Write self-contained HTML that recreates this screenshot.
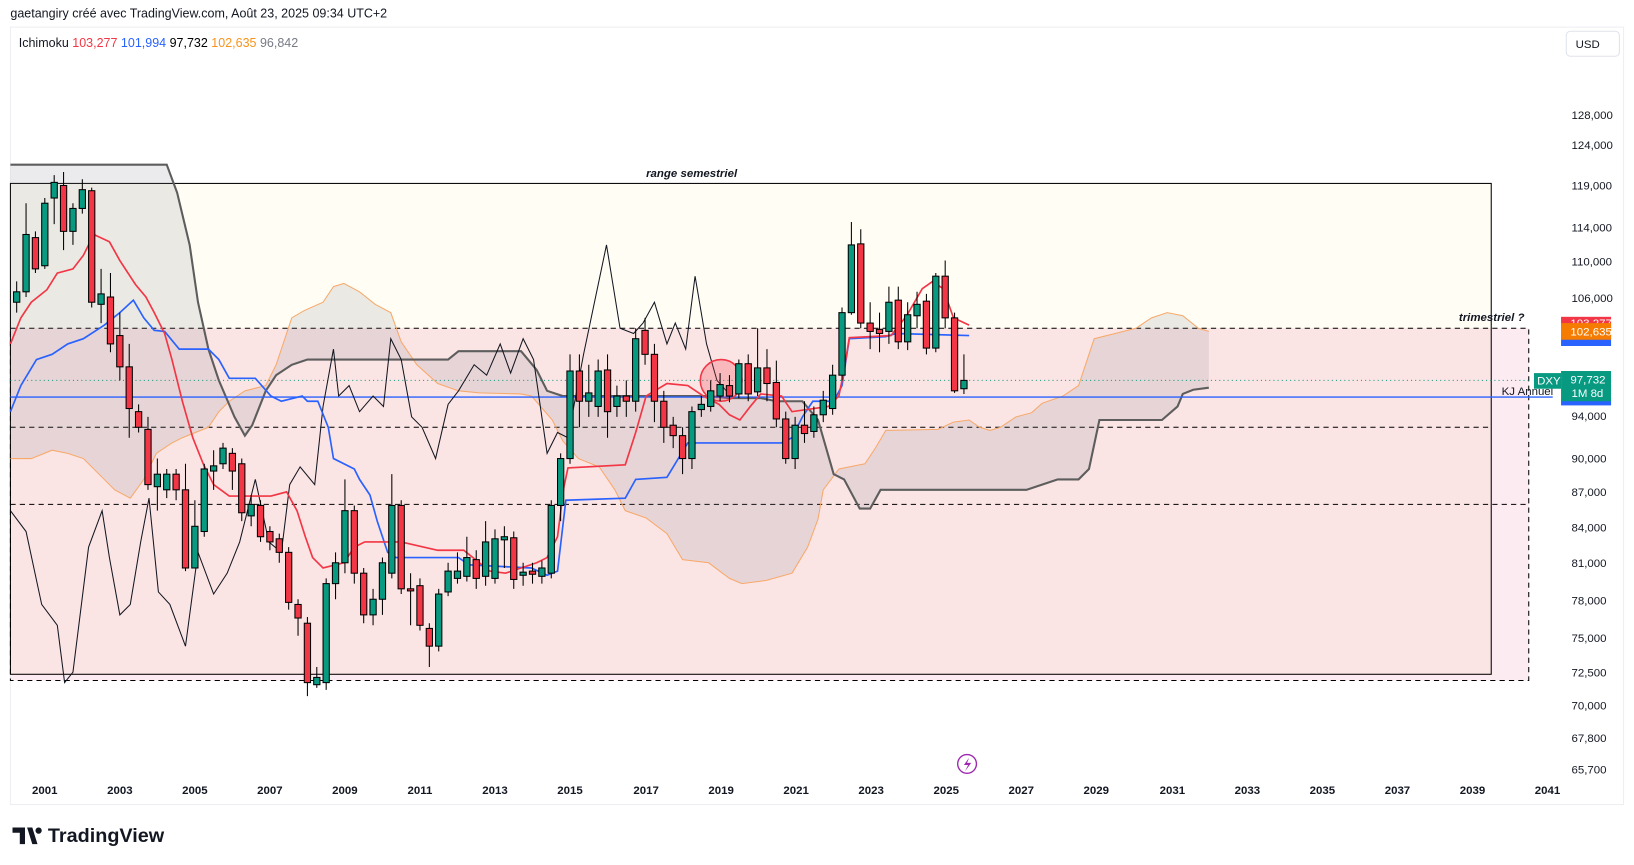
<!DOCTYPE html>
<html><head><meta charset="utf-8"><style>
html,body{margin:0;padding:0;background:#fff;}
svg{display:block;}
text{font-family:"Liberation Sans","DejaVu Sans",sans-serif;}
</style></head><body>
<svg width="1634" height="865" viewBox="0 0 1568 830" preserveAspectRatio="none" xmlns="http://www.w3.org/2000/svg">
<rect width="1568" height="830" fill="#fff"/>
<text x="10" y="17" font-size="12" fill="#131722">gaetangiry créé avec TradingView.com, Août 23, 2025 09:34 UTC+2</text>
<rect x="10" y="26" width="1548" height="746" fill="#fff" stroke="#eceef2"/>
<text x="18" y="45" font-size="12" fill="#131722">Ichimoku <tspan fill="#f23645">103,277</tspan> <tspan fill="#2962ff">101,994</tspan> <tspan fill="#000">97,732</tspan> <tspan fill="#f7931a">102,635</tspan> <tspan fill="#787b86">96,842</tspan></text>
<rect x="1503" y="30" width="51" height="24" rx="4" fill="#fff" stroke="#e0e3eb"/>
<text x="1512" y="46" font-size="11" fill="#131722">USD</text>

<rect x="10" y="176" width="1421" height="471" fill="#fffdf4"/>
<rect x="10" y="315" width="1457" height="338" fill="#f7c6d6" fill-opacity="0.35"/>
<rect x="10" y="315" width="1421" height="332" fill="#fbe4e4"/>
<rect x="10" y="176" width="1421" height="471" fill="none" stroke="#000" stroke-width="1"/>
<rect x="10" y="315" width="1457" height="338" fill="none" stroke="#000" stroke-dasharray="5,4"/>
<line x1="10" y1="410" x2="1431" y2="410" stroke="#000" stroke-dasharray="5,4"/>
<line x1="10" y1="484" x2="1467" y2="484" stroke="#000" stroke-dasharray="5,4"/>
<text x="620" y="170" font-size="11" font-weight="bold" font-style="italic" fill="#131722">range semestriel</text>
<text x="1400" y="308" font-size="11" font-weight="bold" font-style="italic" fill="#131722">trimestriel ?</text>

<polygon fill="#787b86" fill-opacity="0.15" points="10,440 30,440 50,432 65,435 80,440 95,455 110,470 125,478 138,460 150,435 165,425 175,420 200,410 210,395 220,385 235,375 255,370 265,350 280,305 292,298 310,290 320,275 330,272 345,280 360,292 375,300 385,328 400,350 420,368 440,375 460,377 500,378 510,380 530,403 540,423 555,440 575,448 590,470 600,490 620,497 640,512 655,537 680,540 700,555 712,560 735,557 760,550 775,525 785,498 790,470 805,450 830,445 840,430 850,413 900,412 915,405 930,403 940,410 950,413 960,410 975,400 990,396 1000,387 1020,380 1035,370 1050,325 1070,320 1090,315 1105,305 1120,300 1135,303 1150,315 1160,318 1160,372 1145,374 1135,378 1130,390 1115,403 1055,403 1045,450 1035,460 1015,460 1000,465 985,470 845,470 835,488 825,488 810,460 800,455 785,403 770,385 745,385 730,382 700,382 680,380 540,380 525,375 515,355 500,337 440,337 430,345 295,345 280,350 265,360 255,375 242,408 235,418 225,400 210,365 200,335 190,290 182,235 170,185 160,158 10,158"/>
<polyline fill="none" stroke="#f7a96a" stroke-width="1" points="10,440 30,440 50,432 65,435 80,440 95,455 110,470 125,478 138,460 150,435 165,425 175,420 200,410 210,395 220,385 235,375 255,370 265,350 280,305 292,298 310,290 320,275 330,272 345,280 360,292 375,300 385,328 400,350 420,368 440,375 460,377 500,378 510,380 530,403 540,423 555,440 575,448 590,470 600,490 620,497 640,512 655,537 680,540 700,555 712,560 735,557 760,550 775,525 785,498 790,470 805,450 830,445 840,430 850,413 900,412 915,405 930,403 940,410 950,413 960,410 975,400 990,396 1000,387 1020,380 1035,370 1050,325 1070,320 1090,315 1105,305 1120,300 1135,303 1150,315 1160,318"/>
<polyline fill="none" stroke="#5d5d5d" stroke-width="2" points="10,158 160,158 170,185 182,235 190,290 200,335 210,365 225,400 235,418 242,408 255,375 265,360 280,350 295,345 430,345 440,337 500,337 515,355 525,375 540,380 680,380 700,382 730,382 745,385 770,385 785,403 800,455 810,460 825,488 835,488 845,470 985,470 1000,465 1015,460 1035,460 1045,450 1055,403 1115,403 1130,390 1135,378 1145,374 1160,372"/>

<line x1="10" y1="365" x2="1467" y2="365" stroke="#089981" stroke-dasharray="1,3"/>
<line x1="10" y1="381" x2="1490" y2="381" stroke="#2962ff" stroke-width="1.3"/>
<text x="1441" y="379" font-size="11" fill="#131722">KJ Annuel</text>

<polyline fill="none" stroke="#131722" stroke-width="1" points="10,490 25,510 40,580 55,600 62,655 70,645 85,525 98,490 105,535 115,590 125,580 135,520 143,478 152,568 163,580 178,620 190,530 205,570 218,550 230,520 245,460 258,520 270,530 278,465 288,448 302,465 310,390 320,335 325,380 335,370 345,395 358,380 368,390 375,325 385,345 395,400 405,410 418,440 430,388 440,375 455,350 467,360 480,330 490,358 502,325 512,345 525,435 535,415 545,420 560,340 582,235 595,315 608,320 617,310 628,290 640,330 648,310 658,335 667,265 678,330 688,365 697,375"/>
<polyline fill="none" stroke="#2962ff" stroke-width="1.6" points="10,395 20,370 35,345 50,340 65,330 80,325 100,312 115,300 128,288 138,305 148,317 158,318 172,335 200,335 210,345 220,363 245,363 260,380 270,385 290,380 295,385 305,385 315,410 320,440 340,450 345,460 355,475 362,500 372,530 380,535 440,535 450,542 510,545 525,552 535,548 543,480 600,478 610,460 640,458 660,425 750,425 760,420 770,400 780,385 800,385 808,370 815,325 850,323 860,320 930,322"/>
<polyline fill="none" stroke="#f23645" stroke-width="1.6" points="10,330 20,305 30,290 45,278 55,262 70,258 80,245 90,225 105,232 115,250 130,273 140,285 148,300 158,320 165,345 175,385 185,420 195,445 205,465 220,476 260,476 275,472 285,490 293,515 300,535 310,545 330,540 340,525 350,520 385,520 420,528 445,528 460,540 470,548 485,550 500,545 515,540 525,535 535,515 541,468 545,449 600,446 610,415 620,380 640,368 660,370 675,380 690,388 700,398 710,403 720,390 730,378 750,380 760,395 795,390 805,380 810,355 815,324 855,322 870,303 885,277 895,270 905,277 915,305 930,312"/>

<circle cx="692" cy="365" r="20" fill="#f23645" fill-opacity="0.25" stroke="#f23645" stroke-width="1.5"/>

<path fill="none" stroke="#000" stroke-width="1" d="M16 270V300M25 195V285M34 222V262M43 190V258M52 168V215M61 165V240M70 195V235M79 172V205M88 180V295M97 258V310M106 262V338M115 300V365M124 330V420M133 388V415M142 400V470M151 440V490M160 450V478M169 450V480M178 445V548M187 480V545M196 445V515M205 432V470M214 425V450M223 430V470M232 440V500M241 475V505M250 480V520M259 505V528M268 512V540M277 525V585M286 575V610M295 592V668M304 640V660M313 555V662M322 530V575M331 460V550M340 485V560M349 545V598M358 565V600M367 535V590M376 455V555M385 480V570M394 550V600M403 555V605M412 598V640M421 565V625M430 540V572M439 530V560M448 515V558M457 528V565M466 500V562M475 508V560M484 505V545M493 510V565M502 540V562M511 540V560M520 538V560M529 480V555M538 435V500M547 340V445M556 340V410M565 350V400M574 345V400M583 340V420M592 370V400M601 365V400M610 315V395M619 305V350M628 330V405M637 375V425M646 400V430M655 410V455M664 390V450M673 380V400M682 365V395M691 358V385M700 360V386M709 345V382M718 340V385M727 315V380M736 335V385M745 346V410M754 395V445M763 400V450M772 385V425M781 390V420M790 375V405M799 350V398M808 295V365M817 213V302M826 220V315M835 290V335M844 300V338M853 275V330M862 275V335M871 290V336M880 280V315M889 282V340M898 262V338M907 250V315M916 300V377M925 340V378"/>
<g fill="#089981" stroke="#000" stroke-width="1">
<rect x="13" y="280" width="6" height="10"/><rect x="22" y="225" width="6" height="55"/><rect x="40" y="195" width="6" height="60"/><rect x="49" y="175" width="6" height="15"/><rect x="67" y="200" width="6" height="22"/><rect x="76" y="182" width="6" height="18"/><rect x="94" y="282" width="6" height="10"/><rect x="148" y="455" width="6" height="12"/><rect x="157" y="455" width="6" height="15"/><rect x="184" y="505" width="6" height="40"/><rect x="193" y="450" width="6" height="60"/><rect x="202" y="447" width="6" height="5"/><rect x="211" y="430" width="6" height="15"/><rect x="238" y="484" width="6" height="11"/><rect x="301" y="650" width="6" height="7"/><rect x="310" y="560" width="6" height="95"/><rect x="319" y="540" width="6" height="20"/><rect x="328" y="490" width="6" height="50"/><rect x="355" y="575" width="6" height="15"/><rect x="364" y="540" width="6" height="35"/><rect x="373" y="485" width="6" height="65"/><rect x="418" y="570" width="6" height="50"/><rect x="427" y="548" width="6" height="20"/><rect x="436" y="548" width="6" height="7"/><rect x="445" y="535" width="6" height="18"/><rect x="463" y="520" width="6" height="33"/><rect x="472" y="517" width="6" height="38"/><rect x="481" y="515" width="6" height="3"/><rect x="499" y="549" width="6" height="3"/><rect x="517" y="545" width="6" height="8"/><rect x="526" y="485" width="6" height="65"/><rect x="535" y="440" width="6" height="45"/><rect x="544" y="356" width="6" height="84"/><rect x="562" y="377" width="6" height="8"/><rect x="571" y="356" width="6" height="34"/><rect x="589" y="380" width="6" height="10"/><rect x="607" y="325" width="6" height="60"/><rect x="661" y="395" width="6" height="45"/><rect x="670" y="388" width="6" height="5"/><rect x="679" y="375" width="6" height="15"/><rect x="688" y="369" width="6" height="11"/><rect x="706" y="349" width="6" height="29"/><rect x="724" y="353" width="6" height="23"/><rect x="760" y="408" width="6" height="32"/><rect x="778" y="398" width="6" height="16"/><rect x="787" y="384" width="6" height="14"/><rect x="796" y="360" width="6" height="32"/><rect x="805" y="300" width="6" height="60"/><rect x="814" y="235" width="6" height="65"/><rect x="850" y="290" width="6" height="28"/><rect x="868" y="302" width="6" height="26"/><rect x="877" y="292" width="6" height="11"/><rect x="895" y="265" width="6" height="69"/><rect x="922" y="365" width="6" height="8"/>
</g>
<g fill="#f23645" stroke="#000" stroke-width="1">
<rect x="31" y="228" width="6" height="30"/><rect x="58" y="178" width="6" height="44"/><rect x="85" y="183" width="6" height="107"/><rect x="103" y="285" width="6" height="45"/><rect x="112" y="322" width="6" height="30"/><rect x="121" y="352" width="6" height="40"/><rect x="130" y="395" width="6" height="15"/><rect x="139" y="412" width="6" height="53"/><rect x="166" y="455" width="6" height="15"/><rect x="175" y="470" width="6" height="75"/><rect x="220" y="435" width="6" height="17"/><rect x="229" y="445" width="6" height="47"/><rect x="247" y="485" width="6" height="30"/><rect x="256" y="510" width="6" height="10"/><rect x="265" y="517" width="6" height="13"/><rect x="274" y="530" width="6" height="48"/><rect x="283" y="580" width="6" height="13"/><rect x="292" y="598" width="6" height="57"/><rect x="337" y="490" width="6" height="60"/><rect x="346" y="550" width="6" height="40"/><rect x="382" y="485" width="6" height="80"/><rect x="391" y="565" width="6" height="2"/><rect x="400" y="562" width="6" height="38"/><rect x="409" y="603" width="6" height="17"/><rect x="454" y="537" width="6" height="18"/><rect x="490" y="516" width="6" height="40"/><rect x="508" y="548" width="6" height="3"/><rect x="553" y="356" width="6" height="29"/><rect x="580" y="355" width="6" height="40"/><rect x="598" y="380" width="6" height="5"/><rect x="616" y="317" width="6" height="23"/><rect x="625" y="340" width="6" height="45"/><rect x="634" y="385" width="6" height="25"/><rect x="643" y="408" width="6" height="10"/><rect x="652" y="418" width="6" height="22"/><rect x="697" y="370" width="6" height="10"/><rect x="715" y="349" width="6" height="29"/><rect x="733" y="353" width="6" height="15"/><rect x="742" y="367" width="6" height="35"/><rect x="751" y="402" width="6" height="38"/><rect x="769" y="408" width="6" height="8"/><rect x="823" y="234" width="6" height="76"/><rect x="832" y="310" width="6" height="8"/><rect x="841" y="316" width="6" height="4"/><rect x="859" y="288" width="6" height="40"/><rect x="886" y="289" width="6" height="45"/><rect x="904" y="265" width="6" height="40"/><rect x="913" y="305" width="6" height="70"/>
</g>

<g font-size="11" fill="#131722">
<text x="1508" y="114">128,000</text><text x="1508" y="143">124,000</text><text x="1508" y="182">119,000</text><text x="1508" y="222">114,000</text><text x="1508" y="255">110,000</text><text x="1508" y="290">106,000</text><text x="1508" y="403">94,000</text><text x="1508" y="444">90,000</text><text x="1508" y="476">87,000</text><text x="1508" y="510">84,000</text><text x="1508" y="544">81,000</text><text x="1508" y="580">78,000</text><text x="1508" y="616">75,000</text><text x="1508" y="649">72,500</text><text x="1508" y="681">70,000</text><text x="1508" y="712">67,800</text><text x="1508" y="742">65,700</text>
</g>
<rect x="1498" y="304" width="48" height="12" fill="#f23645"/>
<text x="1507" y="314" font-size="11" fill="#fff">103,277</text>
<rect x="1498" y="320" width="48" height="12" fill="#2962ff"/>
<rect x="1498" y="310" width="48" height="16" fill="#f57c00"/>
<text x="1507" y="322" font-size="11" fill="#fff">102,635</text>
<rect x="1472" y="358" width="26" height="15" fill="#089981"/>
<text x="1475" y="369" font-size="11" fill="#fff">DXY</text>
<rect x="1498" y="383" width="48" height="6" fill="#2962ff"/>
<rect x="1498" y="356" width="48" height="29" fill="#089981"/>
<text x="1507" y="368" font-size="11" fill="#fff">97,732</text>
<text x="1508" y="381" font-size="11" fill="#fff">1M 8d</text>

<g font-size="11" font-weight="bold" fill="#131722" text-anchor="middle">
<text x="43" y="762">2001</text><text x="115" y="762">2003</text><text x="187" y="762">2005</text><text x="259" y="762">2007</text><text x="331" y="762">2009</text><text x="403" y="762">2011</text><text x="475" y="762">2013</text><text x="547" y="762">2015</text><text x="620" y="762">2017</text><text x="692" y="762">2019</text><text x="764" y="762">2021</text><text x="836" y="762">2023</text><text x="908" y="762">2025</text><text x="980" y="762">2027</text><text x="1052" y="762">2029</text><text x="1125" y="762">2031</text><text x="1197" y="762">2033</text><text x="1269" y="762">2035</text><text x="1341" y="762">2037</text><text x="1413" y="762">2039</text><text x="1485" y="762">2041</text>
</g>
<circle cx="928" cy="733" r="9" fill="none" stroke="#9c27b0" stroke-width="1.3"/>
<path d="M930 727 L925 734 L929 734 L926 740 L932 732 L928 732 Z" fill="#9c27b0"/>

<path d="M12 794 H24 V810 H19 V799 H12 Z M26 794 H31 L36 810 H31 Z M37 794 a3 3 0 1 0 0.1 0 Z" fill="#131722"/>
<text x="46" y="808" font-size="19" font-weight="bold" fill="#131722">TradingView</text>
</svg>
</body></html>
